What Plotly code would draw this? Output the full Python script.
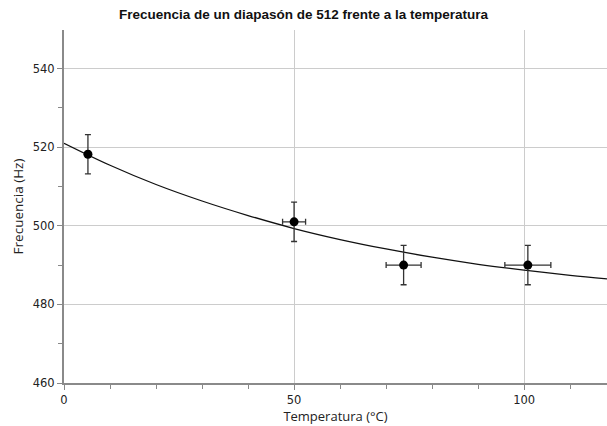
import plotly.graph_objects as go

# Measured data points
temp = [5.2, 50.0, 73.8, 100.8]
freq = [518.2, 501.0, 490.0, 490.0]
temp_err = [0.0, 2.5, 3.8, 5.0]
freq_err = [5.0, 5.0, 5.0, 5.0]

# Fitted curve
curve_t = [0, 10, 20, 30, 40, 50, 60, 70, 80, 90, 100, 110, 118]
curve_f = [521.0, 515.4, 510.5, 506.3, 502.6, 499.3, 496.5, 494.1, 492.0, 490.2, 488.7, 487.4, 486.5]

title_text = "Frecuencia de un diapasón de 512 frente a la temperatura"
x_title = "Temperatura (°C)"
y_title = "Frecuencia (Hz)"

fig = go.Figure()
fig.add_trace(go.Scatter(
    x=curve_t, y=curve_f, mode="lines",
    line=dict(color="#111111", width=1.3, shape="spline"),
    hoverinfo="skip", showlegend=False))
fig.add_trace(go.Scatter(
    x=temp, y=freq, mode="markers",
    marker=dict(color="black", size=9),
    error_x=dict(type="data", array=temp_err, color="#333333", thickness=1.3, width=3),
    error_y=dict(type="data", array=freq_err, color="#333333", thickness=1.3, width=3),
    showlegend=False))

font_axis = "Open Sans, DejaVu Sans, sans-serif"
font_tick = "DejaVu Sans, sans-serif"
fig.update_layout(
    width=607, height=426,
    margin=dict(l=64, r=0, t=30, b=43),
    paper_bgcolor="white", plot_bgcolor="white",
    title=dict(text="<b>" + title_text + "</b>", x=0.5, xanchor="center",
               y=1 - 14 / 426, yanchor="middle",
               font=dict(family="Liberation Sans, Arial", size=13.5, color="#111111")),
    xaxis=dict(
        range=[0, 118], tickvals=[0, 50, 100], ticks="outside", ticklen=5, tickcolor="#888888",
        showgrid=True, gridcolor="#cccccc", gridwidth=1, zeroline=False,
        showline=True, linecolor="#8a8a8a", linewidth=2,
        minor=dict(dtick=10, tick0=0, ticks="outside", ticklen=4, tickcolor="#888888", showgrid=False),
        tickfont=dict(family=font_tick, size=11.5, color="#222222"),
        title=dict(text=x_title, font=dict(family=font_axis, size=13, color="#222222"), standoff=4),
    ),
    yaxis=dict(
        range=[460, 549.8], tickvals=[460, 480, 500, 520, 540], ticks="outside", ticklen=5, tickcolor="#888888",
        showgrid=True, gridcolor="#cccccc", gridwidth=1, zeroline=False,
        showline=True, linecolor="#8a8a8a", linewidth=2,
        minor=dict(dtick=10, tick0=460, ticks="outside", ticklen=4, tickcolor="#888888", showgrid=False),
        tickfont=dict(family=font_tick, size=11.5, color="#222222"),
        title=dict(text=y_title, font=dict(family=font_axis, size=13.5, color="#222222"), standoff=6),
    ),
)
fig.write_html("out.html")
